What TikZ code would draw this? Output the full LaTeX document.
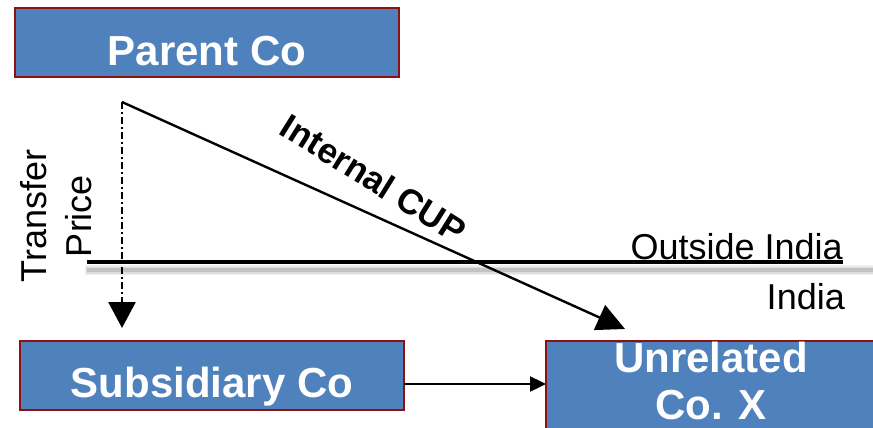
\documentclass[tikz,border=0pt]{standalone}
\usepackage{fontspec}
\setmainfont{Liberation Sans}
\usetikzlibrary{arrows.meta}
\definecolor{boxblue}{HTML}{4F81BD}
\definecolor{boxedge}{RGB}{140,18,18}
\begin{document}
\begin{tikzpicture}[x=1pt,y=-1pt,
  company/.style={rectangle, draw=boxedge, line width=2pt, fill=boxblue,
    anchor=north west, inner sep=0pt, outer sep=0pt},
  boxtext/.style={text=white, font=\fontsize{42}{47}\selectfont\bfseries, align=center},
  region/.style={font=\fontsize{36}{40}\selectfont, anchor=base east, inner sep=0pt},
  flow/.style={line width=2.4pt, -{Triangle[length=28pt,width=27pt]}},
  pricing/.style={line width=2.6pt, dash pattern=on 7pt off 3pt on 2pt off 3pt,
    -{Triangle[length=26pt,width=27pt]}},
  sale/.style={line width=2.4pt, -{Triangle[length=16pt,width=15pt]}}
]
\useasboundingbox (0,0) rectangle (873,428);
\clip (0,0) rectangle (873,428);

% border between the two jurisdictions, with its soft shadow
\draw[line width=10pt, black!6] (85,270) -- (875,270);
\draw[line width=7pt, black!13] (86,270) -- (875,270);
\draw[line width=4pt, black!24] (87,270) -- (875,270);
\draw[line width=4pt] (87,262) -- (843,262);

\node[region] (outside) at (843,259) {Outside India};
\node[region] (inside) at (845,309) {India};

% companies
\node[company, minimum width=384pt, minimum height=69pt,
  label={[boxtext, yshift=-8.5pt]center:Parent Co}] (parent) at (15,8) {};
\node[company, minimum width=384pt, minimum height=69pt,
  label={[boxtext, yshift=-11.5pt]center:Subsidiary Co}] (sub) at (20,341) {};
\node[company, minimum width=330pt, minimum height=100pt,
  label={[boxtext, yshift=10pt]center:Unrelated\\Co. X}] (unrel) at (546,341) {};

% transactions
\coordinate (origin) at ([xshift=107pt, yshift=-25pt]parent.south west);
\draw[pricing] (origin) -- ([xshift=102pt, yshift=13pt]sub.north west);
\draw[flow] (origin) -- ([xshift=79pt, yshift=12pt]unrel.north west);
\draw[sale] ([yshift=-8.5pt]sub.east) -- ([yshift=-8.5pt]sub.east -| unrel.west);

\node[rotate=90, align=center, font=\fontsize{36}{45}\selectfont] (tp) at (56.5,216) {Transfer\\Price};
\node[rotate=-32, anchor=base, inner sep=0pt, font=\fontsize{35}{40}\selectfont\bfseries] (cup) at (367,189) {Internal CUP};
\end{tikzpicture}
\end{document}
